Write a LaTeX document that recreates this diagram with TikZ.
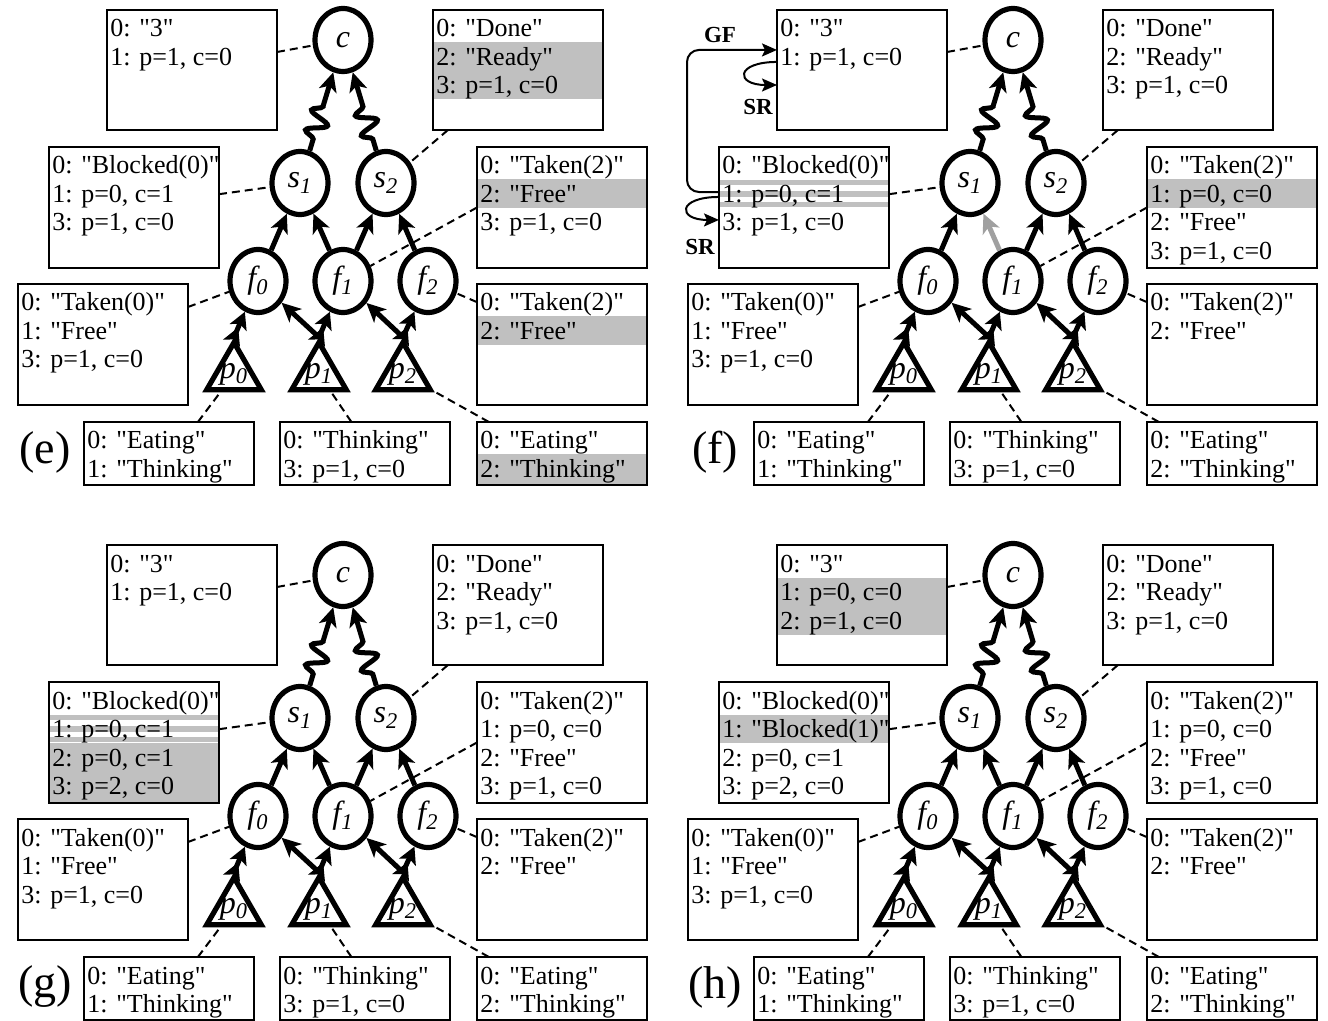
\documentclass[tikz,border=0pt]{standalone}
\usepackage{fontspec}
\setmainfont{Liberation Serif}[Ligatures=TeXOff]
\usetikzlibrary{arrows.meta,decorations.pathmorphing,shapes.geometric,calc}

\definecolor{hlgray}{RGB}{192,192,192}
\definecolor{linkgray}{RGB}{160,160,160}

\tikzset{
  sbox/.style={draw, line width=1pt, inner sep=0pt, outer sep=0pt, minimum width=85pt, anchor=north west},
  txt/.style={inner sep=0pt, anchor=base west, font=\fontsize{13pt}{13pt}\selectfont},
  proc/.style={ellipse, draw, line width=2.6pt, minimum width=28pt, minimum height=31.5pt, inner sep=0pt,
    font=\fontsize{16pt}{16pt}\selectfont\itshape},
  phil/.style={regular polygon, regular polygon sides=3, draw, line width=2.6pt, minimum size=31.5pt, inner sep=0pt},
  plbl/.style={inner sep=0pt, font=\fontsize{16pt}{16pt}\selectfont\itshape},
  link/.style={line width=2.5pt, -{Stealth[length=9.5pt,width=9pt,inset=2.5pt]}},
  dlink/.style={line width=2.5pt, -{Stealth[length=8.5pt,width=9pt,inset=2pt]Stealth[length=8.5pt,width=9pt,inset=2pt]}},
  wlink/.style={line width=2.5pt, -{Stealth[length=9.5pt,width=9pt,inset=2.5pt]}, decorate,
    decoration={snake, amplitude=5pt, segment length=10.5pt, pre length=6pt, post length=16pt}},
  dline/.style={line width=1pt, dash pattern=on 4pt off 2.5pt},
  msg/.style={line width=1pt, -{Stealth[length=7.5pt,width=6.5pt,inset=1.5pt]}},
  msglbl/.style={inner sep=0pt, font=\fontsize{11.5pt}{11.5pt}\selectfont\bfseries},
  panel/.style={inner sep=0pt, font=\fontsize{23pt}{23pt}\selectfont},
}

% state box: name, left, top, height, list of lines
\newcommand{\stbox}[5]{%
  \node[sbox, minimum height=#4*0.5pt] (#1) at (#2,#3) {};
  \foreach \ltext [count=\li from 0] in {#5}
    \node[txt] (#1-l\li) at (#2+3, #3+27+28.5*\li) {\ltext};
}
% grey rows: left, top, first row, last row
\newcommand{\hlrows}[4]{%
  \fill[hlgray] (#1, #2+4+28.5*#3) rectangle (#1+170, #2+32.5+28.5*#4);}
% grey from a row down to a given y
\newcommand{\hlbottom}[4]{%
  \fill[hlgray] (#1, #2+4+28.5*#3) rectangle (#1+170, #4);}
% striped row: left, top, row
\newcommand{\hlstripes}[3]{%
  \foreach \ya/\yb in {33/38,44/50,55/60}
    \fill[hlgray] (#1, #2+\ya+28.5*#3-28.5) rectangle (#1+170, #2+\yb+28.5*#3-28.5);}

% the process tree; #1 = colour of the f1 -> s1 link
\newcommand{\philtree}[1]{%
  \node[proc] (c) at (343,40) {c};
  \node[proc] (s1) at (300,183) {s\textsubscript{1}};
  \node[proc] (s2) at (386,183) {s\textsubscript{2}};
  \node[proc] (f0) at (258,281) {f\textsubscript{0}};
  \node[proc] (f1) at (343,281) {f\textsubscript{1}};
  \node[proc] (f2) at (428,281) {f\textsubscript{2}};
  \node[phil, label={[plbl, name=p0t]center:p\textsubscript{0}}] (p0) at (234,374) {};
  \node[phil, label={[plbl, name=p1t]center:p\textsubscript{1}}] (p1) at (319,374) {};
  \node[phil, label={[plbl, name=p2t]center:p\textsubscript{2}}] (p2) at (403,374) {};
  \draw[wlink] (s1) -- (c);
  \draw[wlink] (s2) -- (c);
  \draw[link] (f0) -- (s1);
  \draw[link, color=#1] (f1) -- (s1);
  \draw[link] (f1) -- (s2);
  \draw[link] (f2) -- (s2);
  \draw[dlink] (p0.corner 1) -- (f0);
  \draw[link] (p1.corner 1) -- (f0);
  \draw[dlink] (p1.corner 1) -- (f1);
  \draw[link] (p2.corner 1) -- (f1);
  \draw[dlink] (p2.corner 1) -- (f2);
}

% dashed ties between state boxes and processes
\newcommand{\ties}{%
  \draw[dline] ($(A.north east)!0.35!(A.south east)$) -- (c);
  \draw[dline] ($(B.south west)!0.088!(B.south east)$) -- (s2);
  \draw[dline] ($(C.north east)!0.39!(C.south east)$) -- (s1);
  \draw[dline] (D.west) -- (f1);
  \draw[dline] ($(E.north east)!0.19!(E.south east)$) -- (f0);
  \draw[dline] ($(F.north west)!0.15!(F.south west)$) -- (f2);
  \draw[dline] ($(G.north west)!0.67!(G.north east)$) -- (p0);
  \draw[dline] ($(H.north west)!0.42!(H.north east)$) -- (p1);
  \draw[dline] ($(I.north west)!0.07!(I.north east)$) -- (p2);
}

\begin{document}
\begin{tikzpicture}[x=0.5pt, y=-0.5pt]
\useasboundingbox (0,0) rectangle (1328,1021);
\fill[white] (0,0) rectangle (1328,1021);

% ---------- (e)
\begin{scope}[name prefix=e-]
  \hlrows{433}{10}{1}{2}
  \hlrows{477}{147}{1}{1}
  \hlrows{477}{284}{1}{1}
  \hlbottom{477}{422}{1}{485}
  \stbox{A}{107}{10}{120}{{0: "3"},{1: p=1, c=0}}
  \stbox{B}{433}{10}{120}{{0: "Done"},{2: "Ready"},{3: p=1, c=0}}
  \stbox{C}{49}{147}{121}{{0: "Blocked(0)"},{1: p=0, c=1},{3: p=1, c=0}}
  \stbox{D}{477}{147}{121}{{0: "Taken(2)"},{2: "Free"},{3: p=1, c=0}}
  \stbox{E}{18}{284}{121}{{0: "Taken(0)"},{1: "Free"},{3: p=1, c=0}}
  \stbox{F}{477}{284}{121}{{0: "Taken(2)"},{2: "Free"}}
  \stbox{G}{84}{422}{63}{{0: "Eating"},{1: "Thinking"}}
  \stbox{H}{280}{422}{63}{{0: "Thinking"},{3: p=1, c=0}}
  \stbox{I}{477}{422}{63}{{0: "Eating"},{2: "Thinking"}}
  \philtree{black}
  \ties
  \node[panel] (lbl) at (45,452) {(e)};
\end{scope}

% ---------- (f)
\begin{scope}[shift={(670,0)}, name prefix=f-]
  \hlstripes{49}{147}{1}
  \hlrows{477}{147}{1}{1}
  \stbox{A}{107}{10}{120}{{0: "3"},{1: p=1, c=0}}
  \stbox{B}{433}{10}{120}{{0: "Done"},{2: "Ready"},{3: p=1, c=0}}
  \stbox{C}{49}{147}{121}{{0: "Blocked(0)"},{1: p=0, c=1},{3: p=1, c=0}}
  \stbox{D}{477}{147}{121}{{0: "Taken(2)"},{1: p=0, c=0},{2: "Free"},{3: p=1, c=0}}
  \stbox{E}{18}{284}{121}{{0: "Taken(0)"},{1: "Free"},{3: p=1, c=0}}
  \stbox{F}{477}{284}{121}{{0: "Taken(2)"},{2: "Free"}}
  \stbox{G}{84}{422}{63}{{0: "Eating"},{1: "Thinking"}}
  \stbox{H}{280}{422}{63}{{0: "Thinking"},{3: p=1, c=0}}
  \stbox{I}{477}{422}{63}{{0: "Eating"},{2: "Thinking"}}
  \philtree{linkgray}
  \ties
  % messages between the state boxes
  \draw[msg, rounded corners=6pt] ($(C.north west)!0.372!(C.south west)$) -- ++(-32,0)
    |- ($(A.north west)!0.333!(A.south west)$);
  \draw[msg] ($(A.north west)!0.433!(A.south west)$) .. controls +(-42,0) and +(-42,0)
    .. ($(A.north west)!0.625!(A.south west)$);
  \draw[msg] ($(C.north west)!0.413!(C.south west)$) .. controls +(-42,0) and +(-42,0)
    .. ($(C.north west)!0.603!(C.south west)$);
  \node[msglbl] (gf) at (50,35) {GF};
  \node[msglbl] (sr1) at (88,107) {SR};
  \node[msglbl] (sr2) at (30,247) {SR};
  \node[panel] (lbl) at (45,452) {(f)};
\end{scope}

% ---------- (g)
\begin{scope}[shift={(0,535)}, name prefix=g-]
  \hlstripes{49}{147}{1}
  \hlbottom{49}{147}{2}{268}
  \stbox{A}{107}{10}{120}{{0: "3"},{1: p=1, c=0}}
  \stbox{B}{433}{10}{120}{{0: "Done"},{2: "Ready"},{3: p=1, c=0}}
  \stbox{C}{49}{147}{121}{{0: "Blocked(0)"},{1: p=0, c=1},{2: p=0, c=1},{3: p=2, c=0}}
  \stbox{D}{477}{147}{121}{{0: "Taken(2)"},{1: p=0, c=0},{2: "Free"},{3: p=1, c=0}}
  \stbox{E}{18}{284}{121}{{0: "Taken(0)"},{1: "Free"},{3: p=1, c=0}}
  \stbox{F}{477}{284}{121}{{0: "Taken(2)"},{2: "Free"}}
  \stbox{G}{84}{422}{63}{{0: "Eating"},{1: "Thinking"}}
  \stbox{H}{280}{422}{63}{{0: "Thinking"},{3: p=1, c=0}}
  \stbox{I}{477}{422}{63}{{0: "Eating"},{2: "Thinking"}}
  \philtree{black}
  \ties
  \node[panel] (lbl) at (45,452) {(g)};
\end{scope}

% ---------- (h)
\begin{scope}[shift={(670,535)}, name prefix=h-]
  \hlrows{107}{10}{1}{2}
  \hlrows{49}{147}{1}{1}
  \stbox{A}{107}{10}{120}{{0: "3"},{1: p=0, c=0},{2: p=1, c=0}}
  \stbox{B}{433}{10}{120}{{0: "Done"},{2: "Ready"},{3: p=1, c=0}}
  \stbox{C}{49}{147}{121}{{0: "Blocked(0)"},{1: "Blocked(1)"},{2: p=0, c=1},{3: p=2, c=0}}
  \stbox{D}{477}{147}{121}{{0: "Taken(2)"},{1: p=0, c=0},{2: "Free"},{3: p=1, c=0}}
  \stbox{E}{18}{284}{121}{{0: "Taken(0)"},{1: "Free"},{3: p=1, c=0}}
  \stbox{F}{477}{284}{121}{{0: "Taken(2)"},{2: "Free"}}
  \stbox{G}{84}{422}{63}{{0: "Eating"},{1: "Thinking"}}
  \stbox{H}{280}{422}{63}{{0: "Thinking"},{3: p=1, c=0}}
  \stbox{I}{477}{422}{63}{{0: "Eating"},{2: "Thinking"}}
  \philtree{black}
  \ties
  \node[panel] (lbl) at (45,452) {(h)};
\end{scope}
\end{tikzpicture}
\end{document}
